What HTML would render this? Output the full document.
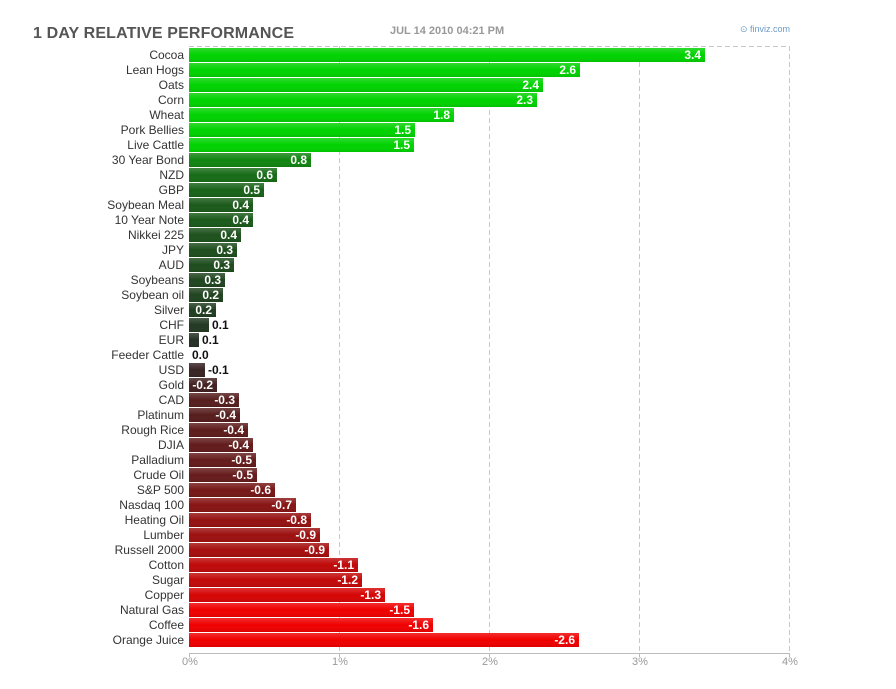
<!DOCTYPE html>
<html><head><meta charset="utf-8"><style>
body{margin:0;background:#fff;width:896px;height:684px;overflow:hidden;font-family:"Liberation Sans",Arial,sans-serif}
</style></head><body>
<svg id="s" width="896" height="684" xmlns="http://www.w3.org/2000/svg" font-family="Liberation Sans, Arial, sans-serif">
<text x="33" y="38" font-size="16" font-weight="bold" fill="#555" textLength="261">1 DAY RELATIVE PERFORMANCE</text>
<text x="390" y="34" font-size="11" font-weight="bold" fill="#999">JUL 14 2010 04:21 PM</text>
<text x="740" y="32" font-size="9" fill="#6a9ac8">⊙ finviz.com</text>
<g stroke="#c8c8c8" stroke-dasharray="5,3">
<line x1="339.5" y1="46" x2="339.5" y2="653"/><line x1="489.5" y1="46" x2="489.5" y2="653"/><line x1="639.5" y1="46" x2="639.5" y2="653"/><line x1="789.5" y1="46" x2="789.5" y2="653"/>
<line x1="189" y1="46.5" x2="789" y2="46.5"/>
</g>
<line x1="189" y1="653.5" x2="790" y2="653.5" stroke="#bbb"/>
<g stroke="#bbb"><line x1="189.5" y1="653" x2="189.5" y2="657"/><line x1="339.5" y1="653" x2="339.5" y2="657"/><line x1="489.5" y1="653" x2="489.5" y2="657"/><line x1="639.5" y1="653" x2="639.5" y2="657"/><line x1="789.5" y1="653" x2="789.5" y2="657"/></g>
<g font-size="11" fill="#999" text-anchor="middle">
<text x="190" y="665">0%</text><text x="340" y="665">1%</text><text x="490" y="665">2%</text><text x="640" y="665">3%</text><text x="790" y="665">4%</text></g>
<defs><linearGradient id="hl" x1="0" y1="0" x2="0" y2="1"><stop offset="0" stop-color="#fff" stop-opacity="0.18"/><stop offset="0.5" stop-color="#fff" stop-opacity="0"/><stop offset="1" stop-color="#000" stop-opacity="0.08"/></linearGradient></defs>
<g id="bars"></g>
</svg>
<script>
var d=[["Cocoa",705,"3.4"],["Lean Hogs",580,"2.6"],["Oats",543,"2.4"],["Corn",537,"2.3"],["Wheat",454,"1.8"],["Pork Bellies",415,"1.5"],["Live Cattle",414,"1.5"],["30 Year Bond",311,"0.8"],["NZD",277,"0.6"],["GBP",264,"0.5"],["Soybean Meal",253,"0.4"],["10 Year Note",253,"0.4"],["Nikkei 225",241,"0.4"],["JPY",237,"0.3"],["AUD",234,"0.3"],["Soybeans",225,"0.3"],["Soybean oil",223,"0.2"],["Silver",216,"0.2"],["CHF",209,"0.1"],["EUR",199,"0.1"],["Feeder Cattle",189,"0.0"],["USD",205,"-0.1"],["Gold",217,"-0.2"],["CAD",239,"-0.3"],["Platinum",240,"-0.4"],["Rough Rice",248,"-0.4"],["DJIA",253,"-0.4"],["Palladium",256,"-0.5"],["Crude Oil",257,"-0.5"],["S&amp;P 500",275,"-0.6"],["Nasdaq 100",296,"-0.7"],["Heating Oil",311,"-0.8"],["Lumber",320,"-0.9"],["Russell 2000",329,"-0.9"],["Cotton",358,"-1.1"],["Sugar",362,"-1.2"],["Copper",385,"-1.3"],["Natural Gas",414,"-1.5"],["Coffee",433,"-1.6"],["Orange Juice",579,"-2.6"]];
var h="";
d.forEach(function(r,i){
 var y=48+i*15,w=r[1]-189,neg=r[2][0]=="-",t=Math.min(w/225,1);
 var c=neg?[Math.round(42+(240-42)*t),Math.round(38*(1-t)),Math.round(38*(1-t))]:[Math.round(38*(1-t)),Math.round(42+(210-42)*t),Math.round(38*(1-t))];
 var col="rgb("+c.join(",")+")";
 h+='<text x="184" y="'+(y+11)+'" font-size="12" fill="#333" text-anchor="end">'+r[0]+'</text>';
 if(w>0)h+='<rect x="189" y="'+y+'" width="'+w+'" height="14" fill="'+col+'"/><rect x="189" y="'+y+'" width="'+w+'" height="14" fill="url(#hl)"/>';
 if(w>=26)h+='<text x="'+(r[1]-4)+'" y="'+(y+11)+'" font-size="12" font-weight="bold" fill="#fff" text-anchor="end">'+r[2]+'</text>';
 else h+='<text x="'+(r[1]+3)+'" y="'+(y+11)+'" font-size="12" font-weight="bold" fill="#111">'+r[2]+'</text>';
});
document.getElementById("bars").innerHTML=h;
</script>
</body></html>
